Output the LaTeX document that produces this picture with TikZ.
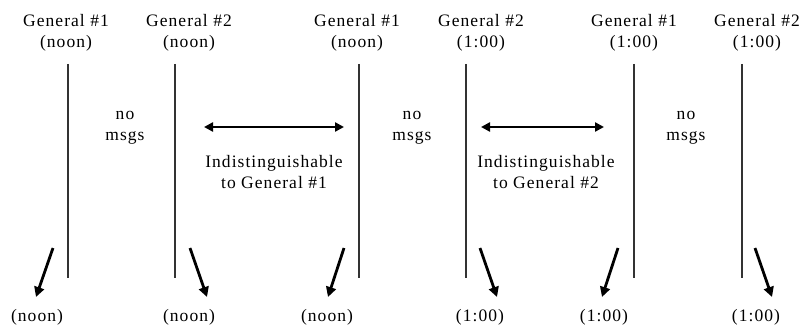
\documentclass[tikz,border=0pt]{standalone}
\usepackage{fontspec}
\setmainfont[LetterSpace=6]{Liberation Serif}
\usetikzlibrary{arrows.meta}
\begin{document}
\begin{tikzpicture}[x=1pt,y=-1pt,
  lbl/.style={inner sep=0pt,align=center,font=\fontsize{17.5}{21.5}\selectfont},
  tline/.style={line width=1.2pt,black!80},
  msg/.style={line width=2.8pt,-{Triangle[length=10pt,width=10pt]}},
  both/.style={line width=2.3pt,{Triangle[length=9pt,width=9pt]}-{Triangle[length=9pt,width=9pt]}}]
\useasboundingbox (0,0) rectangle (801,329);
% column headers
\node[lbl] (h1) at (66,33) {General \#1\\(noon)};
\node[lbl] (h2) at (189,33) {General \#2\\(noon)};
\node[lbl] (h3) at (357,33) {General \#1\\(noon)};
\node[lbl] (h4) at (481,33) {General \#2\\(1:00)};
\node[lbl] (h5) at (634,33) {General \#1\\(1:00)};
\node[lbl] (h6) at (757,33) {General \#2\\(1:00)};
% timelines
\foreach \i/\x in {1/68,2/175,3/359,4/466,5/634,6/742}{
  \coordinate (t\i) at (\x,64);
  \coordinate (b\i) at (\x,278);
  \draw[tline] (t\i) -- (b\i);
}
% no messages between the pairs
\node[lbl] (n1) at (125,128) {no\\msgs};
\node[lbl] (n2) at (412,128) {no\\msgs};
\node[lbl] (n3) at (686,128) {no\\msgs};
% indistinguishable scenarios
\coordinate (d1a) at (204,127);
\coordinate (d1b) at (344,127);
\coordinate (d2a) at (481,127);
\coordinate (d2b) at (604,127);
\draw[both] (d1a) -- (d1b);
\draw[both] (d2a) -- (d2b);
\node[lbl] (i1) at (274,172) {Indistinguishable\\to General \#1};
\node[lbl] (i2) at (546,172) {Indistinguishable\\to General \#2};
% outgoing messages
\coordinate (s1) at (53,248);  \coordinate (e1) at (36,297);
\coordinate (s2) at (190,248); \coordinate (e2) at (207,297);
\coordinate (s3) at (344,248); \coordinate (e3) at (328,297);
\coordinate (s4) at (480,248); \coordinate (e4) at (497,297);
\coordinate (s5) at (618,248); \coordinate (e5) at (602,297);
\coordinate (s6) at (755,248); \coordinate (e6) at (772,297);
\foreach \i in {1,...,6}{ \draw[msg] (s\i) -- (e\i); }
% decisions
\node[lbl] (o1) at (37,317) {(noon)};
\node[lbl] (o2) at (189,317) {(noon)};
\node[lbl] (o3) at (327,317) {(noon)};
\node[lbl] (o4) at (480,317) {(1:00)};
\node[lbl] (o5) at (604,317) {(1:00)};
\node[lbl] (o6) at (756,317) {(1:00)};
\end{tikzpicture}
\end{document}
